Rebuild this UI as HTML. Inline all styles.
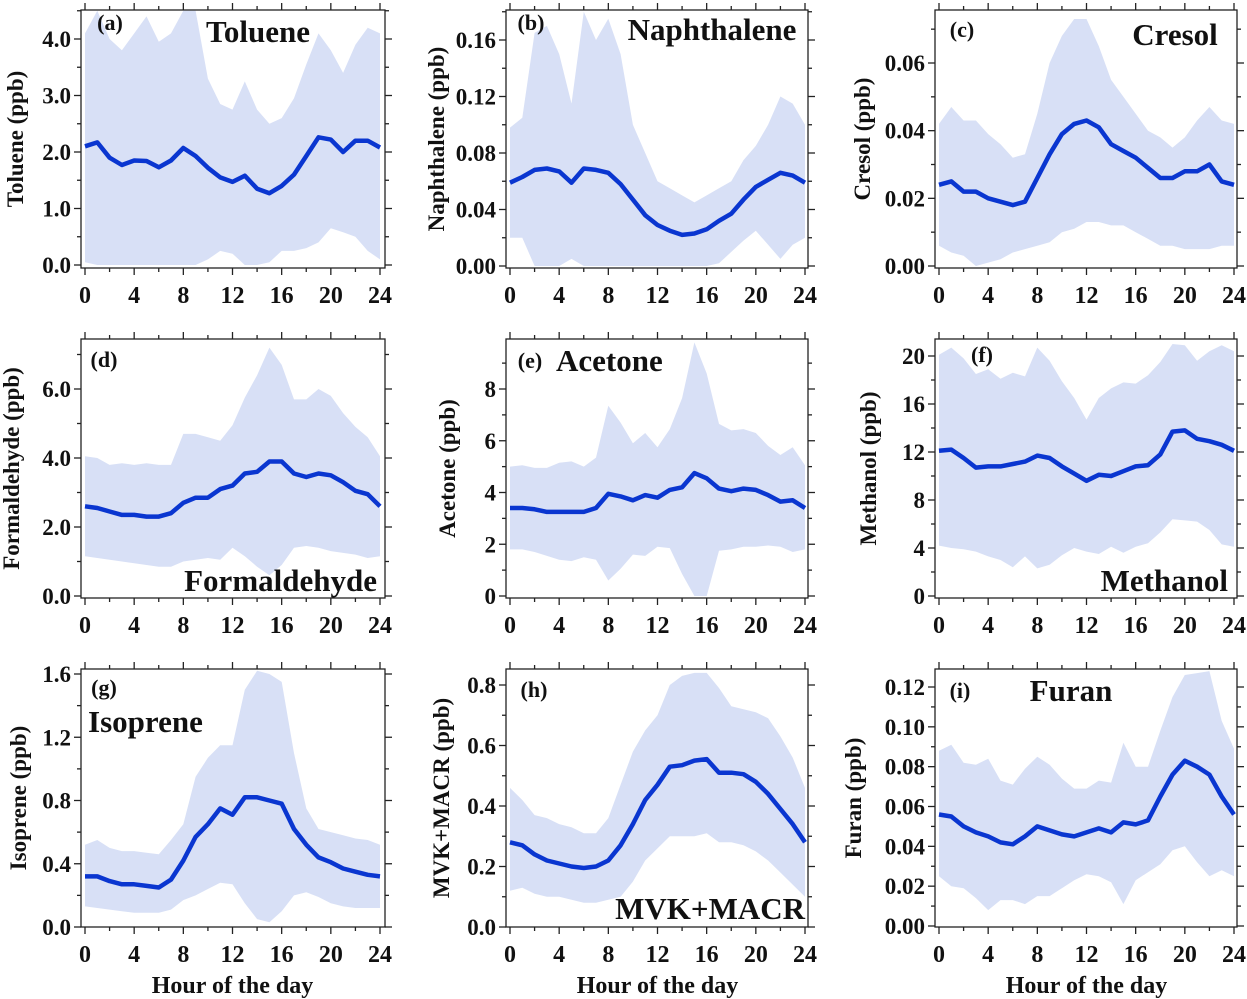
<!DOCTYPE html>
<html><head><meta charset="utf-8"><style>
html,body{margin:0;padding:0;background:#fff;}
svg{display:block;font-family:"Liberation Serif",serif;font-weight:bold;}
</style></head><body>
<svg id="chart" width="1247" height="999" viewBox="0 0 1247 999" xmlns="http://www.w3.org/2000/svg"></svg>
<script>
const hours = [0,1,2,3,4,5,6,7,8,9,10,11,12,13,14,15,16,17,18,19,20,21,22,23,24];
const xTicks = [0,4,8,12,16,20,24];

const tolueneMean = [2.1,2.17,1.9,1.77,1.85,1.84,1.73,1.85,2.07,1.93,1.72,1.55,1.47,1.58,1.35,1.27,1.4,1.6,1.93,2.26,2.22,2.0,2.2,2.2,2.08];
const tolueneUpper = [4.1,4.5,4.0,3.8,4.1,4.4,3.95,4.1,4.5,4.5,3.3,2.85,2.75,3.25,2.75,2.5,2.6,2.95,3.55,4.1,3.8,3.4,3.9,4.2,4.1];
const tolueneLower = [0.05,0,0,0,0,0,0,0,0,0,0.1,0.25,0.2,0,0,0.05,0.25,0.25,0.3,0.4,0.65,0.58,0.5,0.25,0.1];

const naphMean = [0.059,0.063,0.068,0.069,0.067,0.059,0.069,0.068,0.066,0.058,0.047,0.036,0.029,0.025,0.022,0.023,0.026,0.032,0.037,0.047,0.056,0.061,0.066,0.064,0.059];
const naphUpper = [0.098,0.105,0.165,0.17,0.15,0.115,0.18,0.16,0.175,0.15,0.1,0.08,0.06,0.055,0.05,0.045,0.05,0.055,0.06,0.075,0.085,0.1,0.12,0.115,0.1];
const naphLower = [0.02,0.02,0,0,0,0.005,0,0,0,0,0,0,0,0,0,0,0,0.002,0.01,0.018,0.025,0.015,0.005,0.015,0.02];

const cresolMean = [0.024,0.025,0.022,0.022,0.020,0.019,0.018,0.019,0.026,0.033,0.039,0.042,0.043,0.041,0.036,0.034,0.032,0.029,0.026,0.026,0.028,0.028,0.030,0.025,0.024];
const cresolUpper = [0.042,0.047,0.043,0.043,0.039,0.036,0.032,0.033,0.045,0.06,0.068,0.073,0.073,0.065,0.055,0.05,0.045,0.04,0.038,0.035,0.038,0.043,0.047,0.043,0.042];
const cresolLower = [0.006,0.004,0.003,0,0.001,0.002,0.004,0.005,0.006,0.007,0.01,0.011,0.013,0.013,0.012,0.012,0.01,0.008,0.006,0.006,0.005,0.005,0.005,0.006,0.006];

const formMean = [2.6,2.55,2.45,2.35,2.35,2.3,2.3,2.4,2.7,2.85,2.85,3.1,3.2,3.55,3.6,3.9,3.9,3.55,3.45,3.55,3.5,3.3,3.05,2.95,2.6];
const formUpper = [4.05,4.0,3.8,3.85,3.8,3.85,3.8,3.8,4.7,4.7,4.6,4.5,4.95,5.75,6.4,7.2,6.7,5.7,5.7,6.0,5.8,5.3,4.9,4.6,4.05];
const formLower = [1.15,1.1,1.05,1.0,0.95,0.9,0.85,0.85,1.0,1.05,1.1,1.05,1.4,1.15,0.85,0.6,0.9,1.4,1.45,1.4,1.3,1.25,1.2,1.1,1.15];

const acetoneMean = [3.4,3.4,3.35,3.25,3.25,3.25,3.25,3.4,3.95,3.85,3.7,3.9,3.8,4.1,4.2,4.75,4.55,4.15,4.05,4.15,4.1,3.9,3.65,3.7,3.4];
const acetoneUpper = [5.0,5.05,4.95,4.95,5.15,5.2,5.0,5.35,7.35,6.7,5.9,6.3,5.75,6.45,7.65,9.8,8.6,6.65,6.4,6.45,6.3,5.8,5.45,5.75,5.05];
const acetoneLower = [1.8,1.8,1.7,1.55,1.4,1.35,1.5,1.4,0.6,1.05,1.6,1.55,1.9,1.85,0.85,0,0,1.75,1.8,1.9,1.9,1.95,1.9,1.7,1.8];

const methMean = [12.1,12.2,11.5,10.7,10.8,10.8,11.0,11.2,11.7,11.5,10.8,10.2,9.6,10.1,10.0,10.4,10.8,10.9,11.8,13.7,13.8,13.1,12.9,12.6,12.1];
const methUpper = [20.1,20.7,19.8,18.5,18.9,18.1,18.6,18.3,20.7,19.6,17.9,16.5,14.7,16.5,17.3,17.8,17.7,18.4,19.5,21,20.9,19.6,20.4,20.9,20.4];
const methLower = [4.2,4.0,3.9,3.7,3.3,3.0,2.4,3.3,2.3,2.6,3.4,4.0,3.7,3.5,4.1,3.6,4.1,4.4,5.3,6.4,6.3,6.2,5.5,4.3,4.1];

const isoMean = [0.32,0.32,0.29,0.27,0.27,0.26,0.25,0.3,0.42,0.57,0.65,0.75,0.71,0.82,0.82,0.8,0.78,0.62,0.52,0.44,0.41,0.37,0.35,0.33,0.32];
const isoUpper = [0.52,0.55,0.5,0.48,0.48,0.47,0.46,0.55,0.65,0.95,1.07,1.15,1.15,1.5,1.62,1.6,1.55,1.1,0.75,0.62,0.6,0.58,0.56,0.55,0.52];
const isoLower = [0.13,0.12,0.11,0.1,0.09,0.09,0.09,0.11,0.17,0.2,0.24,0.28,0.27,0.15,0.05,0.03,0.1,0.2,0.22,0.19,0.15,0.13,0.12,0.12,0.12];

const mvkMean = [0.28,0.27,0.24,0.22,0.21,0.2,0.195,0.2,0.22,0.27,0.34,0.42,0.47,0.53,0.535,0.55,0.555,0.51,0.51,0.505,0.48,0.44,0.39,0.34,0.28];
const mvkUpper = [0.46,0.42,0.37,0.36,0.34,0.33,0.31,0.31,0.36,0.47,0.58,0.65,0.7,0.8,0.83,0.84,0.84,0.79,0.73,0.72,0.71,0.69,0.63,0.56,0.46];
const mvkLower = [0.12,0.13,0.11,0.1,0.1,0.09,0.08,0.08,0.09,0.1,0.15,0.22,0.26,0.3,0.3,0.3,0.31,0.28,0.28,0.27,0.25,0.22,0.18,0.14,0.1];

const furanMean = [0.056,0.055,0.05,0.047,0.045,0.042,0.041,0.045,0.050,0.048,0.046,0.045,0.047,0.049,0.047,0.052,0.051,0.053,0.065,0.076,0.083,0.080,0.076,0.065,0.056];
const furanUpper = [0.088,0.091,0.082,0.081,0.084,0.073,0.071,0.079,0.085,0.081,0.074,0.069,0.069,0.073,0.072,0.092,0.080,0.080,0.098,0.115,0.126,0.127,0.128,0.103,0.089];
const furanLower = [0.025,0.020,0.019,0.014,0.008,0.013,0.013,0.011,0.015,0.015,0.019,0.023,0.026,0.025,0.022,0.011,0.023,0.027,0.031,0.038,0.040,0.032,0.025,0.028,0.025];

const NS = "http://www.w3.org/2000/svg";
const svg = document.getElementById('chart');
function el(tag, attrs, parent, text){
  const e = document.createElementNS(NS, tag);
  for (const k in attrs) e.setAttribute(k, attrs[k]);
  if (text !== undefined) e.textContent = text;
  (parent || svg).appendChild(e);
  return e;
}
const cols = [{l:81,r:385,t0:85,t24:380},{l:506,r:808,t0:510,t24:805},{l:935,r:1237,t0:939,t24:1234}];
const rows = [{t:10,b:268},{t:339,b:598},{t:669,b:927}];

const panels = [
 {key:'toluene',c:0,r:0,mean:tolueneMean,up:tolueneUpper,lo:tolueneLower,v1:4,p0:265,p1:39,major:1,minor:0.5,max:4,dec:1,ytitle:'Toluene (ppb)',tx:15,letter:'(a)',lx:110,ly:30,name:'Toluene',nx:258,ny:42,anchor:'middle'},
 {key:'naphthalene',c:1,r:0,mean:naphMean,up:naphUpper,lo:naphLower,v1:0.16,p0:266,p1:40,major:0.04,minor:0.02,max:0.16,dec:2,ytitle:'Naphthalene (ppb)',tx:436,letter:'(b)',lx:531,ly:30,name:'Naphthalene',nx:712,ny:40,anchor:'middle'},
 {key:'cresol',c:2,r:0,mean:cresolMean,up:cresolUpper,lo:cresolLower,v1:0.06,p0:266,p1:63,major:0.02,minor:0.01,max:0.06,dec:2,ytitle:'Cresol (ppb)',tx:862,letter:'(c)',lx:962,ly:37,name:'Cresol',nx:1175,ny:45,anchor:'middle'},
 {key:'formaldehyde',c:0,r:1,mean:formMean,up:formUpper,lo:formLower,v1:6,p0:596,p1:389,major:2,minor:1,max:6,dec:1,ytitle:'Formaldehyde (ppb)',tx:11,letter:'(d)',lx:104,ly:367,name:'Formaldehyde',nx:377,ny:591,anchor:'end'},
 {key:'acetone',c:1,r:1,mean:acetoneMean,up:acetoneUpper,lo:acetoneLower,v1:8,p0:596,p1:389,major:2,minor:1,max:8,dec:0,ytitle:'Acetone (ppb)',tx:447,letter:'(e)',lx:530,ly:368,name:'Acetone',nx:556,ny:371,anchor:'start'},
 {key:'methanol',c:2,r:1,mean:methMean,up:methUpper,lo:methLower,v1:20,p0:596,p1:356,major:4,minor:2,max:20,dec:0,ytitle:'Methanol (ppb)',tx:868,letter:'(f)',lx:982,ly:362,name:'Methanol',nx:1228,ny:591,anchor:'end'},
 {key:'isoprene',c:0,r:2,mean:isoMean,up:isoUpper,lo:isoLower,v1:1.6,p0:927,p1:674,major:0.4,minor:0.2,max:1.6,dec:1,ytitle:'Isoprene (ppb)',tx:18,letter:'(g)',lx:104,ly:695,name:'Isoprene',nx:88,ny:732,anchor:'start'},
 {key:'mvk-macr',c:1,r:2,mean:mvkMean,up:mvkUpper,lo:mvkLower,v1:0.8,p0:927,p1:685,major:0.2,minor:0.1,max:0.8,dec:1,ytitle:'MVK+MACR (ppb)',tx:441,letter:'(h)',lx:534,ly:697,name:'MVK+MACR',nx:805,ny:919,anchor:'end'},
 {key:'furan',c:2,r:2,mean:furanMean,up:furanUpper,lo:furanLower,v1:0.12,p0:926,p1:687,major:0.02,minor:0.01,max:0.12,dec:2,ytitle:'Furan (ppb)',tx:853,letter:'(i)',lx:960,ly:698,name:'Furan',nx:1071,ny:701,anchor:'middle'}
];

panels.forEach(p => {
  const C = cols[p.c], R = rows[p.r];
  const g = el('g', {});
  
  
  const xs = h => C.t0 + (C.t24 - C.t0) * h / 24;
  const ys = v => p.p0 + (p.p1 - p.p0) * v / p.v1;
  const clipId = 'clip-' + p.key;
  const cp = el('clipPath', {id: clipId}, g);
  el('rect', {x:C.l, y:R.t, width:C.r-C.l, height:R.b-R.t}, cp);
  let d = '';
  hours.forEach((h,i) => { d += (i?'L':'M') + xs(h).toFixed(1) + ',' + ys(p.up[i]).toFixed(1); });
  for (let i = hours.length-1; i >= 0; i--) d += 'L' + xs(hours[i]).toFixed(1) + ',' + ys(p.lo[i]).toFixed(1);
  const band = el('path', {d: d + 'Z', fill:'#d8e0f6', 'clip-path':'url(#'+clipId+')'}, g);
  
  
  let ld = '';
  hours.forEach((h,i) => { ld += (i?'L':'M') + xs(h).toFixed(1) + ',' + ys(p.mean[i]).toFixed(1); });
  const line = el('path', {d: ld, fill:'none', stroke:'#0a36d0', 'stroke-width':4.5, 'stroke-linejoin':'round'}, g);
  
  
  const frame = el('rect', {x:C.l, y:R.t, width:C.r-C.l, height:R.b-R.t, fill:'none', stroke:'#222', 'stroke-width':1.3}, g);
  
  
  for (let h = 0; h <= 24; h += 2) {
    const x = xs(h), len = (h % 4 === 0) ? 7 : 4;
    el('line', {x1:x, x2:x, y1:R.b, y2:R.b+len, stroke:'#222','stroke-width':1.3}, g);
    el('line', {x1:x, x2:x, y1:R.t, y2:R.t-len, stroke:'#222','stroke-width':1.3}, g);
  }
  xTicks.forEach(h => {
    const t = el('text', {x:xs(h), y:R.b+35, 'text-anchor':'middle', 'font-size':24, fill:'#111'}, g, String(h));
    
    
  });
  const ratio = Math.round(p.major / p.minor);
  for (let k = 0; ; k++) {
    const v = k * p.minor, y = ys(v);
    if (y < R.t - 0.5) break;
    const major = (k % ratio === 0);
    const len = major ? 7 : 4;
    el('line', {x1:C.l, x2:C.l-len, y1:y, y2:y, stroke:'#222','stroke-width':1.3}, g);
    el('line', {x1:C.r, x2:C.r+len, y1:y, y2:y, stroke:'#222','stroke-width':1.3}, g);
    if (major && v <= p.max + 1e-9) {
      const t = el('text', {x:C.l-10, y:y+8, 'text-anchor':'end', 'font-size':23, fill:'#111'}, g, v.toFixed(p.dec));
      
      
    }
  }
  const cy = (R.t + R.b) / 2;
  const yt = el('text', {x:p.tx, y:cy, 'text-anchor':'middle', 'font-size':23, fill:'#111', transform:'rotate(-90 '+p.tx+' '+cy+')', dy:'0.35em'}, g, p.ytitle);
  
  
  const lt = el('text', {x:p.lx, y:p.ly, 'text-anchor':'middle', 'font-size':22, fill:'#111'}, g, p.letter);
  
  
  const nt = el('text', {x:p.nx, y:p.ny, 'text-anchor':p.anchor, 'font-size':31, fill:'#111'}, g, p.name);
  
  
  if (p.r === 2) {
    const xt = el('text', {x:(C.t0+C.t24)/2, y:993, 'text-anchor':'middle', 'font-size':24, fill:'#111'}, g, 'Hour of the day');
    
    
  }
});
</script>
</body></html>
